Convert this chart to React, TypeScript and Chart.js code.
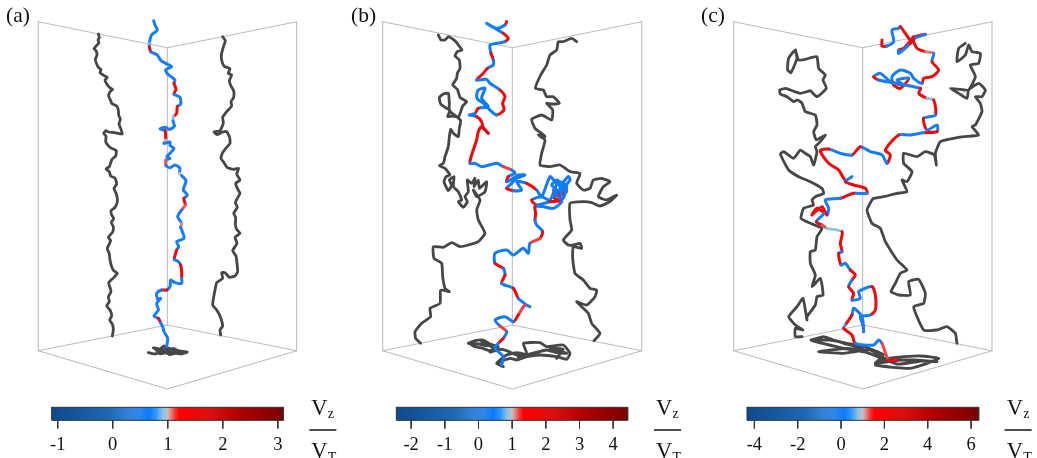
import React, { useEffect, useRef } from "react";
import { Chart, registerables } from "chart.js";

Chart.register(...registerables);

type P2 = [number, number];
type P3 = [number, number, number];

// Coordinates of each panel at 3x scale, panel-local.
const panelNames = ["(a)", "(b)", "(c)"];
const panelOffsets = [0, 350, 697];

const boxA: P2[] = [[115, 65], [502, 143], [890, 65], [890, 1052], [502, 975], [115, 1052], [115, 65]];
const boxA2: P2[] = [[502, 143], [502, 975]];
const boxA3: P2[] = [[115, 1052], [502, 1167], [890, 1052]];
const boxB: P2[] = [[98, 65], [487, 143], [875, 65], [875, 1052], [487, 975], [98, 1052], [98, 65]];
const boxB2: P2[] = [[487, 143], [487, 975]];
const boxB3: P2[] = [[98, 1052], [487, 1167], [875, 1052]];
const boxC: P2[] = [[110, 65], [497, 143], [885, 65], [885, 1052], [497, 975], [110, 1052], [110, 65]];
const boxC2: P2[] = [[497, 143], [497, 975]];
const boxC3: P2[] = [[110, 1052], [497, 1167], [885, 1052]];

const grayA1: P2[] = [[295,102],[298,112],[294,120],[297,128],[290,136],[282,146],[288,152],[291,165],[286,178],[290,192],[296,203],[303,208],[300,218],[311,226],[322,232],[315,240],[319,250],[328,262],[338,268],[330,275],[326,288],[331,300],[336,311],[350,318],[355,330],[356,345],[361,358],[357,372],[362,385],[367,402],[345,398],[325,396],[318,392],[311,400],[318,408],[317,425],[324,436],[335,445],[349,452],[347,468],[336,478],[328,500],[318,507],[328,515],[332,528],[345,534],[350,552],[342,565],[350,585],[352,605],[345,622],[333,632],[335,645],[341,655],[334,668],[340,680],[338,696],[325,712],[332,722],[322,745],[328,762],[330,780],[335,800],[341,812],[352,820],[342,832],[326,848],[330,862],[333,875],[325,890],[328,905],[320,918],[330,930],[335,948],[329,960],[337,972],[340,990],[337,1008]];
const grayA2: P2[] = [[668,110],[676,122],[672,135],[668,148],[664,165],[666,185],[673,199],[690,206],[685,220],[695,225],[688,242],[693,258],[701,272],[701,292],[693,305],[695,318],[680,335],[668,352],[670,370],[660,392],[642,396],[652,404],[668,396],[680,395],[689,412],[690,430],[680,442],[668,458],[663,475],[672,488],[682,503],[700,508],[716,505],[710,522],[720,540],[707,550],[712,565],[720,580],[712,595],[706,608],[712,622],[701,640],[707,652],[706,672],[710,688],[720,700],[705,712],[711,730],[698,752],[708,768],[711,790],[713,815],[705,828],[688,832],[675,818],[665,818],[668,835],[650,848],[645,870],[641,892],[638,915],[650,930],[660,948],[668,978],[660,990],[662,1005]];
const floorA: P2[] = [[445,1058],[462,1062],[478,1058],[490,1060],[475,1052],[460,1043],[480,1047],[492,1038],[505,1048],[520,1045],[535,1052],[562,1056],[545,1062],[525,1060],[510,1064],[492,1056],[470,1052],[495,1048],[520,1054],[550,1058],[505,1056],[480,1062],[500,1044],[525,1050]];
const colorA: P3[] = [[461,62,.6],[465,75,.6],[472,90,.6],[455,104,.6],[451,115,.6],[448,130,.85],[448,140,1.3],[452,155,.6],[462,160,.6],[472,165,.6],[483,182,.6],[497,190,.6],[515,200,.6],[497,210,.6],[503,222,.6],[513,230,.6],[525,240,.6],[522,250,1.3],[528,268,1.3],[522,282,.6],[540,292,.6],[542,312,.6],[532,320,1.3],[530,340,1.3],[521,350,.9],[519,363,.7],[523,378,.6],[510,388,.6],[495,382,.6],[480,387,.6],[495,392,1.3],[497,410,1.3],[497,420,1],[492,430,.6],[510,426,.6],[510,436,.6],[522,445,.6],[510,460,.6],[500,470,.6],[510,475,.6],[498,480,1.1],[498,497,.6],[510,503,.6],[525,495,.6],[540,505,.6],[538,520,1],[545,527,.6],[558,542,.6],[550,570,.6],[562,585,.6],[552,595,1.3],[552,600,1.3],[556,615,1.1],[545,630,.6],[533,650,.6],[545,670,1.05],[542,682,.6],[546,692,.6],[552,715,.6],[530,725,.6],[536,740,.6],[530,750,1.3],[525,767,1.3],[523,778,.6],[535,785,.6],[542,795,1.3],[545,815,1.3],[545,835,.6],[545,850,.6],[525,848,.6],[512,840,.6],[510,860,.6],[500,870,1.3],[485,870,.6],[470,880,.6],[473,897,.6],[482,895,.6],[470,910,.6],[475,930,.6],[462,948,.6],[475,955,1.3],[482,968,.6],[488,980,.6],[492,995,.6],[503,1015,.6],[500,1040,.6]];

const grayB1: P2[] = [[265,105],[273,120],[285,120],[295,110],[305,115],[318,125],[325,135],[336,150],[322,155],[315,168],[328,180],[330,205],[322,220],[320,235],[308,255],[322,268],[330,292],[350,305],[338,318],[326,350],[305,348],[293,350],[300,330],[290,325],[272,312],[268,292],[280,282],[295,280],[298,310],[298,332],[320,350],[332,362],[328,385],[325,410],[310,400],[302,388],[298,410],[295,440],[285,470],[280,490],[268,497],[285,505],[300,525],[288,530],[282,545],[295,572],[305,555],[298,540],[312,530],[310,560],[325,575],[335,600],[325,605],[340,622],[352,605],[345,590],[355,575],[352,540],[365,550],[375,535],[372,560],[385,540],[388,565],[410,545],[405,575],[380,590],[370,570],[390,600],[380,630],[385,660],[405,700],[385,725],[355,735],[330,740],[305,728],[280,742],[250,740],[252,775],[275,790],[278,830],[285,865],[298,875],[272,870],[270,910],[240,925],[242,950],[215,970],[195,995],[197,1015],[212,1030]];
const grayB2: P2[] = [[680,125],[665,115],[640,125],[625,125],[620,150],[600,165],[590,195],[572,225],[556,265],[580,270],[590,290],[610,290],[628,310],[605,312],[590,310],[608,330],[605,360],[575,345],[545,358],[555,385],[575,400],[585,410],[565,405],[585,420],[575,460],[570,495],[600,500],[630,495],[660,515],[690,520],[680,550],[700,570],[720,565],[730,540],[755,535],[780,545],[760,560],[745,590],[770,600],[800,585],[780,605],[750,618],[725,608],[700,605],[660,610],[660,660],[665,690],[640,720],[655,735],[670,735],[690,730],[695,745],[670,740],[668,775],[675,820],[700,840],[720,865],[740,870],[735,890],[710,915],[680,905],[695,920],[715,940],[725,970],[750,1000],[732,1022]];
const floorB: P2[] = [[355,1030],[375,1022],[400,1020],[420,1032],[445,1040],[420,1052],[395,1044],[375,1040],[358,1030],[385,1032],[410,1038],[395,1026],[430,1045],[420,1056],[450,1048],[470,1052],[500,1065],[530,1060],[520,1030],[570,1028],[590,1040],[640,1035],[660,1060],[650,1078],[620,1070],[570,1065],[530,1070],[500,1080],[480,1075],[440,1090],[460,1100],[440,1090],[470,1065],[500,1058],[530,1065],[505,1072],[590,1050],[620,1058],[650,1060],[600,1045],[640,1048],[620,1075]];
const colorB: P3[] = [[470,65,1.5],[465,75,.4],[440,85,.4],[410,70,.4],[435,85,.4],[460,100,1.5],[475,115,1.5],[465,125,.4],[440,130,.4],[420,135,.4],[423,160,1.5],[430,180,.4],[430,195,.4],[412,205,1.5],[400,220,1.5],[380,240,.4],[410,238,.4],[420,250,.4],[450,270,1.5],[465,290,1.5],[458,310,1.5],[462,330,1.5],[440,345,.4],[420,330,.4],[400,310,.4],[385,300,.4],[380,290,.4],[385,270,.4],[405,265,.4],[395,295,.4],[415,320,.4],[385,325,1.5],[375,340,.4],[358,345,.4],[380,350,1.5],[395,365,1.5],[400,385,.4],[415,400,1.5],[395,380,1.5],[385,395,1.5],[380,420,1.5],[365,465,1.5],[360,490,.4],[375,490,.4],[395,500,.4],[440,490,.4],[460,500,1.2],[485,510,.4],[495,520,.4],[475,530,1.5],[470,545,.4],[490,535,.4],[505,525,.4],[525,525,.4],[500,535,.4],[485,550,.4],[470,565,1.5],[490,572,.4],[515,570,.4],[500,545,.4],[530,550,1.5],[560,570,.4],[575,590,.4],[600,530,.4],[615,545,.4],[630,555,.4],[655,530,.4],[660,540,.4],[645,560,.4],[650,575,.4],[635,565,1.5],[640,590,.4],[625,600,1.5],[610,590,.4],[620,570,.4],[605,555,.4],[622,540,.4],[632,575,1.5],[618,585,.4],[640,555,.4],[628,590,1.5],[610,570,.4],[635,600,.4],[650,560,.4],[625,545,.4],[600,600,.4],[575,590,.4],[545,600,1.5],[560,615,.4],[600,605,1.5],[635,605,.4],[610,625,.4],[580,620,.4],[555,620,1.5],[557,640,1.5],[555,660,.4],[560,675,.4],[578,695,1.5],[570,715,1.2],[540,730,.4],[535,760,.4],[520,745,.4],[490,765,.4],[470,750,.4],[435,760,.4],[435,790,1.5],[460,805,.4],[465,825,1.5],[455,850,.4],[490,865,1.5],[505,895,.4],[530,915,.4],[540,920,.4],[525,915,1.2],[505,945,1.5],[490,965,.4],[465,950,.4],[435,960,.4],[450,978,1.2],[470,995,.4],[460,1015,1.5],[445,1030,.4],[435,1045,.4],[460,1070,.4],[455,1095,.4]];

const grayC1: P2[] = [[296,150],[285,160],[275,175],[272,195],[272,210],[282,218],[300,175],[295,150],[305,180],[325,178],[345,172],[360,170],[365,205],[385,225],[378,240],[388,265],[360,290],[340,272],[330,275],[310,280],[280,270],[265,265],[248,270],[250,282],[270,290],[290,305],[302,300],[315,310],[325,335],[355,345],[360,375],[350,395],[358,420],[385,405],[370,425],[355,440],[360,455],[350,495],[340,470],[325,460],[310,450],[290,475],[260,455],[250,462],[275,510],[305,530],[340,545],[375,565],[380,580],[355,590],[345,600],[350,615],[320,625],[312,655],[340,670],[375,685],[360,710],[355,750],[340,755],[340,790],[355,825],[345,860],[370,835],[378,885],[360,890],[355,915],[330,950],[330,960],[318,895],[300,920],[275,950],[295,975],[318,990],[295,985],[295,1010],[315,1010]];
const grayC2: P2[] = [[805,130],[785,145],[780,185],[805,165],[815,135],[825,155],[850,160],[845,190],[820,195],[835,230],[815,270],[790,268],[760,265],[785,280],[810,295],[815,270],[845,250],[865,270],[855,290],[835,290],[850,310],[855,335],[835,375],[825,380],[845,405],[800,410],[770,415],[730,425],[715,460],[718,495],[712,465],[685,455],[660,470],[620,460],[620,490],[645,515],[630,545],[615,540],[630,575],[600,580],[560,590],[530,595],[525,600],[510,630],[525,670],[550,685],[565,725],[600,780],[630,810],[610,820],[595,850],[582,875],[605,885],[640,885],[635,845],[665,838],[685,880],[680,910],[650,920],[680,990],[720,990],[750,980],[775,1000],[780,1030]];
const floorC: P2[] = [[342,1020],[380,1010],[410,1020],[440,1030],[470,1038],[500,1050],[450,1045],[365,1055],[440,1060],[520,1050],[560,1075],[620,1070],[670,1068],[725,1075],[690,1090],[640,1105],[590,1102],[535,1095],[560,1080],[650,1080],[720,1085],[610,1080],[535,1090],[560,1065],[500,1040],[450,1030],[400,1020],[342,1020],[440,1045],[510,1058],[600,1092],[680,1082]];
const colorC: P3[] = [[555,120,2],[555,138,2],[570,138,0],[590,125,0],[585,90,0],[605,85,0],[610,80,2],[625,100,2],[640,120,2],[650,110,2],[620,145,2],[605,150,0],[605,160,0],[640,130,2],[655,110,2],[685,103,0],[650,118,2],[660,145,2],[685,155,1.2],[710,160,0],[705,185,2],[725,210,2],[705,230,2],[680,235,2],[675,250,0],[650,235,0],[640,220,0],[610,210,0],[585,230,0],[590,255,2],[610,265,2],[635,235,0],[600,240,0],[620,255,2],[580,245,0],[550,220,0],[530,230,2],[545,240,0],[670,265,2],[665,280,2],[690,295,.8],[710,300,2],[715,345,0],[680,355,2],[690,390,0],[720,375,0],[720,395,2],[680,398,0],[640,405,0],[605,405,2],[565,450,2],[580,465,2],[570,490,0],[555,465,0],[520,455,0],[490,440,2],[465,465,0],[430,460,0],[395,447,2],[370,452,2],[395,490,2],[425,510,2],[445,540,0],[465,530,0],[445,545,2],[470,555,2],[505,565,2],[510,580,0],[470,580,2],[430,595,0],[385,600,0],[395,625,0],[390,645,2],[375,620,2],[345,645,2],[360,625,2],[380,640,0],[358,665,2],[375,675,1.3],[390,685,.8],[435,695,2],[430,730,2],[435,755,0],[425,760,2],[432,795,0],[445,790,0],[460,810,2],[475,825,2],[465,840,0],[455,860,2],[470,880,2],[465,900,0],[490,895,0],[485,875,0],[525,860,2],[535,885,2],[535,930,2],[520,945,0],[490,950,0],[498,975,2],[500,995,0],[495,950,0],[470,925,0],[465,945,2],[445,975,.5],[440,985,2],[465,1005,2],[475,1030,0],[530,1035,0],[545,1020,0],[555,1030,1.3],[575,1080,2],[600,1080,0]];

// Colour bars: value at each tick and the bar's value range and x span (3x units).
const ticksA = [-1, 0, 1, 2, 3];
const ticksB = [-2, -1, 0, 1, 2, 3, 4];
const ticksC = [-4, -2, 0, 2, 4, 6];
const barRanges: P2[] = [[-1.11, 3.1], [-2.44, 4.43], [-4.34, 6.35]];
const barSpans: P2[] = [[155, 850], [139, 833], [150, 845]];
const fractionX = [928, 912, 923];

const stopFractions = [0, .1, .25, .33, .38, .42, .45, .48, .5, .515, .53, .55, .67, .81, 1];
const stopColors: [number, number, number][] = [[13,75,140],[20,85,155],[30,105,180],[50,130,215],[45,135,235],[10,122,255],[50,150,250],[140,197,232],[192,192,192],[230,130,130],[245,60,60],[255,0,0],[220,16,16],[176,0,0],[122,0,0]];

function barColor(f: number) {
  for (let i = 1; i < stopFractions.length; i++) {
    if (f <= stopFractions[i]) {
      const t = Math.max(0, (f - stopFractions[i - 1]) / (stopFractions[i] - stopFractions[i - 1]));
      const a = stopColors[i - 1], b = stopColors[i];
      return `rgb(${a.map((c, k) => Math.round(c + (b[k] - c) * t)).join(",")})`;
    }
  }
  return "rgb(122,0,0)";
}

const axisIds = ["xA", "xB", "xC"];

function xy(pts: number[][]) {
  return pts.map((p) => ({ x: p[0], y: p[1] }));
}

function line(panel: number, pts: number[][], color: any, width: number, order: number, tension = 0) {
  return {
    data: xy(pts), xAxisID: axisIds[panel], yAxisID: "y", showLine: true, pointRadius: 0,
    borderColor: color, borderWidth: width, order, tension,
    borderCapStyle: "round", borderJoinStyle: "round", fill: false,
  };
}

function traj(panel: number, pts: P3[]) {
  const [lo, hi] = barRanges[panel];
  return {
    ...line(panel, pts, "#1f80f0", 3, 1, 0.25),
    segment: { borderColor: (c: any) => barColor((pts[c.p0DataIndex][2] - lo) / (hi - lo)) },
  };
}

function bar(panel: number) {
  const [x0, x1] = barSpans[panel];
  const off = panelOffsets[panel];
  const gradient = (c: any) => {
    const g = c.chart.ctx.createLinearGradient(off + x0 / 3, 0, off + x1 / 3, 0);
    stopFractions.forEach((f) => g.addColorStop(f, barColor(f)));
    return g;
  };
  return {
    ...line(panel, [[x0, 1241.5], [x1, 1241.5]], gradient, 13, 2),
    borderCapStyle: "butt", borderJoinStyle: "miter",
  };
}

function valueX(panel: number, v: number) {
  const [lo, hi] = barRanges[panel];
  const [x0, x1] = barSpans[panel];
  return x0 + ((v - lo) / (hi - lo)) * (x1 - x0);
}

function barFrame(panel: number) {
  const [x0, x1] = barSpans[panel];
  return line(panel, [[x0, 1222], [x1, 1222], [x1, 1261], [x0, 1261], [x0, 1222]], "#333", 1, 0);
}

function tickMarks(panel: number, ticks: number[]) {
  const pts: number[][] = [];
  ticks.forEach((t) => {
    const x = valueX(panel, t);
    pts.push([x, 1261], [x, 1285], [NaN, NaN]);
  });
  return line(panel, pts, "#333", 1, 0);
}

const allTicks = [ticksA, ticksB, ticksC];

const labelPlugin = {
  id: "labels",
  afterDraw(chart: any) {
    const ctx = chart.ctx;
    ctx.save();
    ctx.fillStyle = "#111";
    const serif = '"Liberation Serif"';
    ctx.textBaseline = "alphabetic";
    const yScale = chart.scales.y;
    panelNames.forEach((name, p) => {
      const sx = chart.scales[axisIds[p]];
      ctx.textAlign = "left";
      ctx.font = `21.5px ${serif}`;
      ctx.fillText(name, panelOffsets[p] + [6, 1, 4][p], 22);
      ctx.textAlign = "center";
      ctx.font = `18.5px ${serif}`;
      allTicks[p].forEach((t) => {
        ctx.fillText(String(t), sx.getPixelForValue(valueX(p, t)), 450);
      });
      const fx = fractionX[p];
      const left = sx.getPixelForValue(fx);
      const right = sx.getPixelForValue(fx + 81);
      ctx.strokeStyle = "#222";
      ctx.lineWidth = 1.6;
      ctx.beginPath();
      const ly = yScale.getPixelForValue(1290);
      ctx.moveTo(left, ly);
      ctx.lineTo(right, ly);
      ctx.stroke();
      ctx.textAlign = "left";
      ctx.font = `22.5px ${serif}`;
      ctx.fillText("V", left + 2, 415);
      ctx.fillText("V", left + 2, 458);
      ctx.font = `14px ${serif}`;
      ctx.fillText("z", left + 18.5, 418);
      ctx.fillText("T", left + 18.5, 462);
    });
    ctx.restore();
  },
};

function scaleFor(offset: number) {
  return { type: "linear", display: false, min: -offset * 3, max: (1037 - offset) * 3 };
}

export default function App() {
  const ref = useRef<HTMLCanvasElement>(null);
  useEffect(() => {
    if (!ref.current) return;
    const boxes = [
      [boxA, boxA2, boxA3],
      [boxB, boxB2, boxB3],
      [boxC, boxC2, boxC3],
    ];
    const datasets: any[] = [];
    boxes.forEach((b, p) => b.forEach((s) => datasets.push(line(p, s, "#bdbdbd", 1.1, 4))));
    const grays: [number, P2[]][] = [
      [0, grayA1], [0, grayA2], [0, floorA],
      [1, grayB1], [1, grayB2], [1, floorB],
      [2, grayC1], [2, grayC2], [2, floorC],
    ];
    grays.forEach(([p, g]) => datasets.push(line(p, g, "#474747", 2.8, 3, 0.15)));
    datasets.push(traj(0, colorA), traj(1, colorB), traj(2, colorC));
    [0, 1, 2].forEach((p) => {
      datasets.push(bar(p), barFrame(p), tickMarks(p, allTicks[p]));
    });
    const chart = new Chart(ref.current, {
      type: "scatter",
      data: { datasets },
      plugins: [labelPlugin],
      options: {
        responsive: false,
        animation: false,
        layout: { padding: 0 },
        plugins: { legend: { display: false }, tooltip: { enabled: false } },
        events: [],
        scales: {
          xA: scaleFor(panelOffsets[0]),
          xB: scaleFor(panelOffsets[1]),
          xC: scaleFor(panelOffsets[2]),
          y: { type: "linear", display: false, reverse: true, min: 0, max: 458 * 3 },
        },
      },
    } as any);
    return () => chart.destroy();
  }, []);
  return (
    <div style={{ position: "fixed", left: 0, top: 0, width: 1037, height: 458, background: "#fff", overflow: "hidden" }}>
      <canvas ref={ref} width={1037} height={458} style={{ display: "block", width: 1037, height: 458 }} />
    </div>
  );
}
